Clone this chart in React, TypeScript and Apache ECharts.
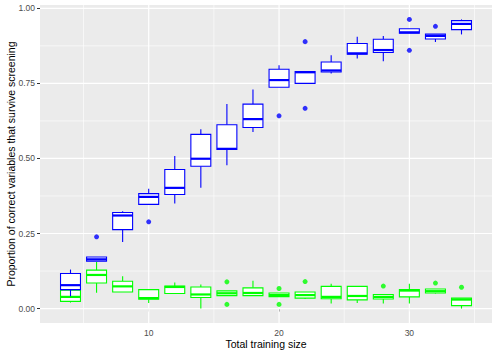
import React, { useEffect, useRef } from "react";
import * as echarts from "echarts";

// Training sizes (x positions of the boxes)
const sizes = [4, 6, 8, 10, 12, 14, 16, 18, 20, 22, 24, 26, 28, 30, 32, 34];

// Blue group: [lower whisker, q1, median, q3, upper whisker]
const blueStats = [
  [0.041, 0.063, 0.078, 0.117, 0.13],
  [0.158, 0.158, 0.164, 0.172, 0.172],
  [0.222, 0.263, 0.31, 0.32, 0.324],
  [0.347, 0.347, 0.372, 0.383, 0.399],
  [0.35, 0.38, 0.402, 0.463, 0.508],
  [0.402, 0.474, 0.499, 0.58, 0.597],
  [0.477, 0.53, 0.532, 0.612, 0.681],
  [0.588, 0.603, 0.631, 0.681, 0.73],
  [0.737, 0.737, 0.761, 0.797, 0.81],
  [0.75, 0.75, 0.787, 0.789, 0.789],
  [0.783, 0.788, 0.793, 0.821, 0.844],
  [0.833, 0.847, 0.85, 0.883, 0.905],
  [0.824, 0.853, 0.861, 0.897, 0.908],
  [0.917, 0.917, 0.92, 0.932, 0.932],
  [0.888, 0.898, 0.908, 0.914, 0.914],
  [0.913, 0.929, 0.948, 0.959, 0.963],
];
const blueOutliers = [
  [6, 0.239],
  [10, 0.289],
  [20, 0.642],
  [22, 0.889],
  [22, 0.667],
  [30, 0.963],
  [30, 0.86],
  [32, 0.94],
];

// Green group: [lower whisker, q1, median, q3, upper whisker]
const greenStats = [
  [0.02, 0.024, 0.039, 0.061, 0.09],
  [0.053, 0.085, 0.112, 0.128, 0.155],
  [0.055, 0.055, 0.074, 0.091, 0.108],
  [0.019, 0.031, 0.035, 0.063, 0.063],
  [0.049, 0.05, 0.072, 0.075, 0.087],
  [0.0, 0.037, 0.047, 0.072, 0.08],
  [0.043, 0.043, 0.051, 0.059, 0.059],
  [0.043, 0.043, 0.052, 0.069, 0.093],
  [0.04, 0.04, 0.045, 0.052, 0.052],
  [0.032, 0.035, 0.045, 0.055, 0.055],
  [0.017, 0.033, 0.039, 0.074, 0.083],
  [0.019, 0.029, 0.042, 0.074, 0.074],
  [0.017, 0.032, 0.039, 0.047, 0.047],
  [0.017, 0.039, 0.06, 0.063, 0.083],
  [0.05, 0.052, 0.058, 0.065, 0.065],
  [0.0, 0.01, 0.03, 0.035, 0.035],
];
const greenOutliers = [
  [16, 0.089],
  [16, 0.014],
  [20, 0.067],
  [20, 0.014],
  [22, 0.09],
  [28, 0.075],
  [32, 0.085],
  [34, 0.071],
];

// Axis ticks / gridlines
const xTicks = [10, 20, 30];
const xMinor = [5, 15, 25, 35];
const yTicks = [0, 0.25, 0.5, 0.75, 1];
const yMinor = [0.125, 0.375, 0.625, 0.875];

const xTitle = "Total training size";
const yTitle = "Proportion of correct variables that survive screening";

const X_MIN = 1.66;
const X_MAX = 36.34;
const Y_MIN = -0.048;
const Y_MAX = 1.011;
const BOX_WIDTH = 1.53;

const BLUE = "#0000FF";
const GREEN = "#00FF00";
const FONT = "'Liberation Sans', Arial, Helvetica, sans-serif";

function boxRenderer(color: string) {
  return (params: any, api: any) => {
    const x = api.value(0);
    const lo = api.coord([x, api.value(1)]);
    const q1 = api.coord([x, api.value(2)]);
    const med = api.coord([x, api.value(3)]);
    const q3 = api.coord([x, api.value(4)]);
    const hi = api.coord([x, api.value(5)]);
    const half = api.size([BOX_WIDTH, 0])[0] / 2;
    const cx = q1[0];
    return {
      type: "group",
      children: [
        {
          type: "line",
          shape: { x1: cx, y1: lo[1], x2: cx, y2: q1[1] },
          style: { stroke: color, lineWidth: 1.1 },
        },
        {
          type: "line",
          shape: { x1: cx, y1: hi[1], x2: cx, y2: q3[1] },
          style: { stroke: color, lineWidth: 1.1 },
        },
        {
          type: "rect",
          shape: { x: cx - half, y: q3[1], width: 2 * half, height: q1[1] - q3[1] },
          style: { fill: "#FFFFFF", stroke: color, lineWidth: 1.1 },
        },
        {
          type: "line",
          shape: { x1: cx - half, y1: med[1], x2: cx + half, y2: med[1] },
          style: { stroke: color, lineWidth: 2.2 },
        },
      ],
    };
  };
}

function gridRenderer(params: any, api: any) {
  const children: any[] = [];
  const vline = (v: number, w: number) => {
    const a = api.coord([v, Y_MIN]);
    const b = api.coord([v, Y_MAX]);
    children.push({
      type: "line",
      shape: { x1: a[0], y1: a[1], x2: b[0], y2: b[1] },
      style: { stroke: "#FFFFFF", lineWidth: w },
    });
  };
  const hline = (v: number, w: number) => {
    const a = api.coord([X_MIN, v]);
    const b = api.coord([X_MAX, v]);
    children.push({
      type: "line",
      shape: { x1: a[0], y1: a[1], x2: b[0], y2: b[1] },
      style: { stroke: "#FFFFFF", lineWidth: w },
    });
  };
  xMinor.forEach((v) => vline(v, 0.6));
  yMinor.forEach((v) => hline(v, 0.6));
  xTicks.forEach((v) => vline(v, 1.2));
  yTicks.forEach((v) => hline(v, 1.2));
  return { type: "group", children };
}

export default function App() {
  const ref = useRef<HTMLDivElement>(null);
  useEffect(() => {
    document.body.style.margin = "0";
    if (!ref.current) return;
    const chart = echarts.init(ref.current, undefined, { renderer: "svg" });
    const blueData = sizes.map((s, i) => [s, ...blueStats[i]]);
    const greenData = sizes.map((s, i) => [s, ...greenStats[i]]);
    chart.setOption({
      animation: false,
      backgroundColor: "#FFFFFF",
      grid: {
        left: 40,
        right: 6,
        top: 5,
        bottom: 32,
        show: true,
        backgroundColor: "#EBEBEB",
        borderWidth: 0,
        containLabel: false,
        outerBoundsMode: "none",
      },
      graphic: [
        {
          type: "text",
          x: 266,
          y: 343.5,
          style: {
            text: xTitle,
            fontFamily: FONT,
            fontSize: 10.5,
            fill: "#000000",
            align: "center",
            verticalAlign: "middle",
          },
        },
        {
          type: "text",
          x: 10.5,
          y: 164,
          rotation: Math.PI / 2,
          style: {
            text: yTitle,
            fontFamily: FONT,
            fontSize: 10.5,
            fill: "#000000",
            align: "center",
            verticalAlign: "middle",
          },
        },
      ],
      xAxis: {
        type: "value",
        min: X_MIN,
        max: X_MAX,
        axisLine: { show: false },
        splitLine: { show: false },
        axisTick: { show: true, length: 3, customValues: xTicks, lineStyle: { color: "#333333", width: 1 } },
        axisLabel: {
          customValues: xTicks,
          fontFamily: FONT,
          fontSize: 8.5,
          color: "#4D4D4D",
          margin: 5,
        },
      },
      yAxis: {
        type: "value",
        min: Y_MIN,
        max: Y_MAX,
        axisLine: { show: false },
        splitLine: { show: false },
        axisTick: { show: true, length: 3, customValues: yTicks, lineStyle: { color: "#333333", width: 1 } },
        axisLabel: {
          customValues: yTicks,
          fontFamily: FONT,
          fontSize: 8.5,
          color: "#4D4D4D",
          margin: 5,
          formatter: (v: number) => v.toFixed(2),
        },
      },
      series: [
        {
          type: "custom",
          name: "grid",
          silent: true,
          z: 1,
          data: [[X_MIN, Y_MIN]],
          encode: { x: 0, y: 1 },
          renderItem: gridRenderer,
        },
        {
          type: "custom",
          name: "green",
          z: 2,
          data: greenData,
          encode: { x: 0, y: [1, 2, 3, 4, 5] },
          renderItem: boxRenderer(GREEN),
        },
        {
          type: "scatter",
          name: "green outliers",
          z: 3,
          symbolSize: 5,
          itemStyle: { color: GREEN },
          data: greenOutliers,
        },
        {
          type: "custom",
          name: "blue",
          z: 4,
          data: blueData,
          encode: { x: 0, y: [1, 2, 3, 4, 5] },
          renderItem: boxRenderer(BLUE),
        },
        {
          type: "scatter",
          name: "blue outliers",
          z: 5,
          symbolSize: 5,
          itemStyle: { color: BLUE },
          data: blueOutliers,
        },
      ],
    });
    return () => chart.dispose();
  }, []);
  return <div ref={ref} style={{ width: 498, height: 355 }} />;
}
